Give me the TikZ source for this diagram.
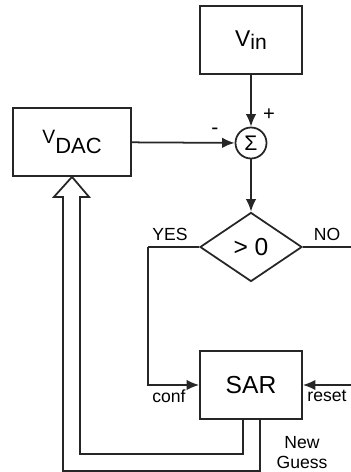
\documentclass[tikz,border=0pt]{standalone}
\usepackage{fontspec}
\setmainfont{Liberation Sans}
\usepackage{tikz}
\usetikzlibrary{positioning,arrows.meta,shapes.geometric,calc}
\tikzset{
  blk/.style={draw=black!85, line width=1pt, align=center,
    minimum width=2.04cm, minimum height=1.36cm, inner sep=0pt,
    font=\fontsize{12}{12}\selectfont},
  sumnode/.style={draw=black!85, line width=1pt, circle, minimum size=0.62cm,
    inner sep=0pt, font=\fontsize{12}{12}\selectfont},
  cmpnode/.style={draw=black!85, line width=1pt, diamond, minimum width=2.04cm,
    minimum height=1.38cm, inner sep=0pt, font=\fontsize{14}{14}\selectfont},
  lab/.style={inner sep=0pt, font=\fontsize{10}{10}\selectfont},
  conn/.style={draw=black!85, line width=1pt},
  arr/.style={conn, -{Latex[length=2.5mm, width=2.1mm]}},
  guess/.style={draw=black!85, line width=1pt, line join=miter}}

\begin{document}
\begin{tikzpicture}
    \useasboundingbox (0,0) rectangle (7.02,-9.44);
    \node[blk, font=\fontsize{13}{13}\selectfont] (vin)  at (5.02,-0.80)
      {V\raisebox{-1.5pt}{\fontsize{12}{12}\selectfont in}};
    \node[blk, minimum width=2.36cm] (vdac) at (1.44,-2.84)
      {\fontsize{11}{11}\selectfont V\raisebox{-6pt}{\fontsize{12.5}{12.5}\selectfont DAC}};
    \node[sumnode] (sig) at (5.02,-2.86) {Σ};
    \node[cmpnode] (cmp) at (5.02,-4.94) {> 0};
    \node[blk, font=\fontsize{14}{14}\selectfont] (sar) at (5.02,-7.70) {SAR};
    % signs at the summing point
    \node[lab, font=\fontsize{11.5}{11.5}\selectfont] (plus)  at (5.38,-2.30) {+};
    \node[lab, font=\fontsize{12}{12}\selectfont] (minus) at (4.30,-2.62) {-};
    % comparator outputs
    \node[lab] (yes) at (3.40,-4.68) {YES};
    \node[lab] (no)  at (6.54,-4.68) {NO};
    \node[lab] (conf)  at (3.38,-7.92) {conf};
    \node[lab] (reset) at (6.54,-7.92) {reset};
    \node[lab, align=center] (newg) at (6.04,-9.05) {New\\[1pt]Guess};
    \coordinate (yesc) at (2.96,-4.94);
    \coordinate (noend) at (7.02,-4.94);
    \coordinate (rstin) at (7.02,-7.70);
    \coordinate (tip) at (vdac.south);
    \draw[arr] (vin) -- (sig);
    \draw[arr] (vdac) -- (sig);
    \draw[arr] (sig) -- (cmp);
    \draw[conn] (cmp.west) -- (yesc);
    \draw[arr] (yesc) |- (sar.west);
    \draw[conn] (cmp.east) -- (noend);
    \draw[arr] (rstin) -- (sar.east);
    % hollow arrow back to the DAC
    \draw[guess] ($(sar.south)+(-0.16,0)$) -- ++(0,-0.68) -| ($(tip)+(0.16,-0.40)$)
      -- ++(0.18,0) -- (tip) -- ++(-0.36,-0.40) -- ++(0.18,0)
      |- ($(sar.south)+(0.18,-1.02)$) -- ++(0,1.02);
\end{tikzpicture}
\end{document}
